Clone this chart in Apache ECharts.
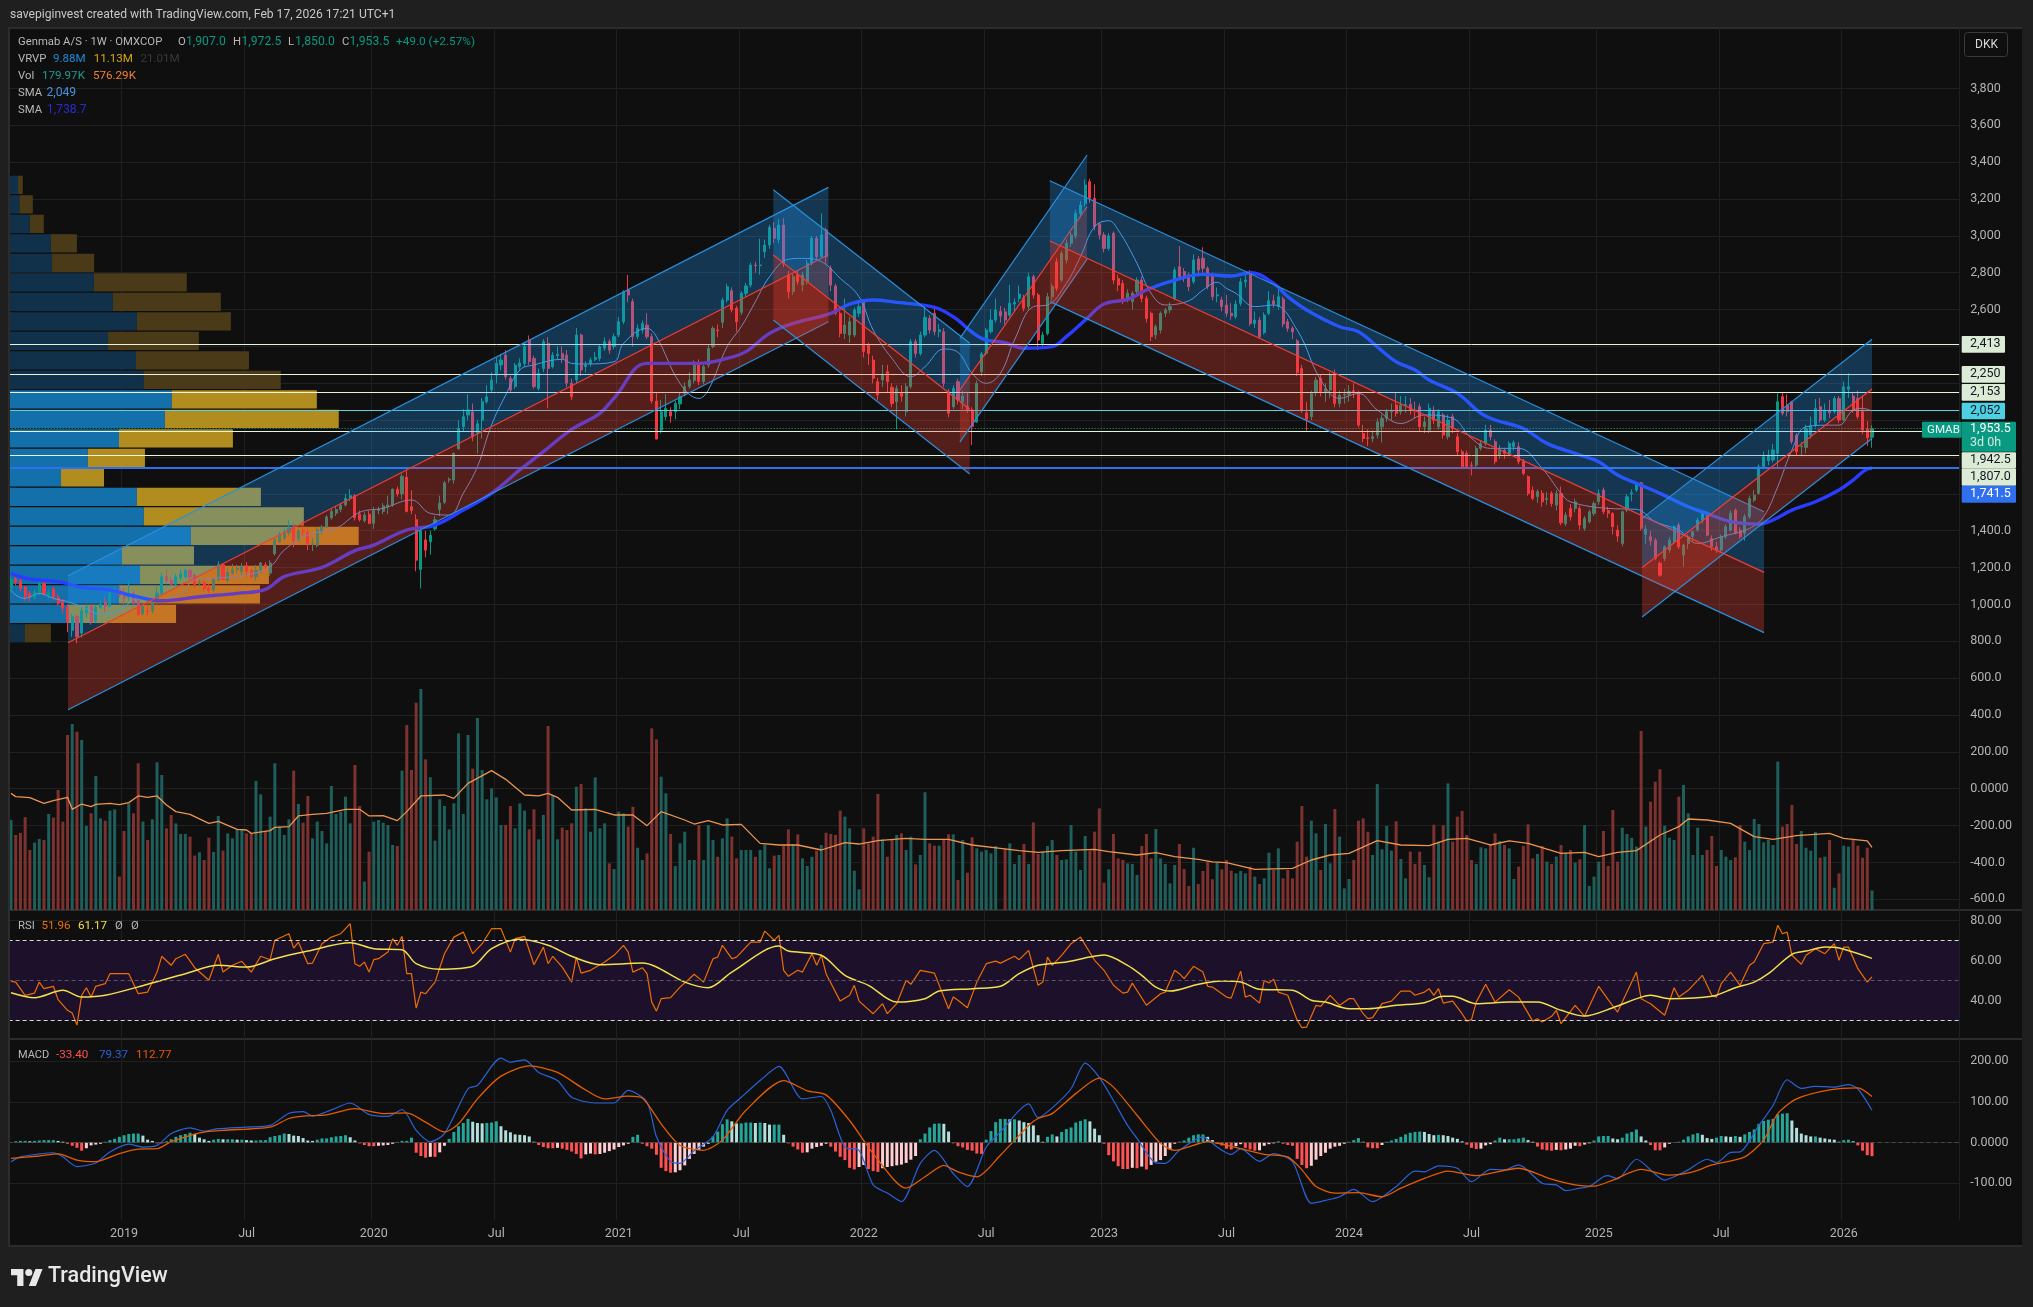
<!DOCTYPE html>
<html><head><meta charset="utf-8">
<script src="https://cdn.jsdelivr.net/npm/echarts@6/dist/echarts.min.js"></script>
<style>
html,body{margin:0;padding:0;background:#1f1f1f;width:2033px;height:1307px;overflow:hidden;font-family:Roboto,sans-serif}
#frame{position:absolute;left:10px;top:28px;width:2012px;height:1218px;background:#0f0f0f}
#main{position:absolute;left:0;top:0;width:2033px;height:1307px}
.sep{position:absolute;left:10px;width:2012px;height:2px;background:#2c2c2c}
.mask{position:absolute;background:#1f1f1f}
#logo{position:absolute;left:11px;top:1268px}
</style></head><body>
<div id="frame"></div>
<div class="sep" style="top:27px"></div><div class="sep" style="top:909px"></div><div class="sep" style="top:1038px"></div><div class="sep" style="top:1245px"></div>
<div id="main"></div>
<div class="mask" style="left:0;top:0;width:10px;height:1307px"></div>
<div class="mask" style="left:8px;top:27px;width:2px;height:1220px;background:#2c2c2c"></div>
<svg id="logo" width="32" height="18" viewBox="0 0 36 20"><path fill="#e8e8e8" d="M14 20H7V8H0V1h14zM28 20h-8l7.5-19h8z"/><circle cx="20" cy="5" r="4" fill="#e8e8e8"/></svg>
<script>
// ---------- time axis ----------
const firstWeek = '2018-07-23';
const totalSlots = 414;
const timeTicks = [[24,'2019'],[50,'Jul'],[77,'2020'],[103,'Jul'],[129,'2021'],[155,'Jul'],[181,'2022'],[207,'Jul'],[232,'2023'],[258,'Jul'],[284,'2024'],[310,'Jul'],[337,'2025'],[363,'Jul'],[389,'2026']];

// ---------- price ticks ----------
const priceGrid = [-600,-400,-200,0,200,400,600,800,1000,1200,1400,1600,1800,2000,2200,2400,2600,2800,3000,3200,3400,3600,3800];
const priceLabels = {3800:'3,800',3600:'3,600',3400:'3,400',3200:'3,200',3000:'3,000',2800:'2,800',2600:'2,600',1400:'1,400.0',1200:'1,200.0',1000:'1,000.0',800:'800.0',600:'600.0',400:'400.0',200:'200.00',0:'0.0000','-200':'-200.00','-400':'-400.0','-600':'-600.0'};
const rsiLabels = {80:'80.00',60:'60.00',40:'40.00'};
const macdLabels = {200:'200.00',100:'100.00',0:'0.0000','-100':'-100.00'};

// ---------- weekly candles: open, close, low, high ----------
const candles = [
[1085,1135,1070,1150],[1140,1120,1105,1150],[1130,1085,1070,1140],[1095,1040,1020,1100],[1060,1040,1015,1075],
[1035,1070,1030,1085],[1065,1115,1050,1130],[1115,1060,1045,1125],[1050,1065,1030,1085],[1085,1040,1020,1095],
[1040,1005,990,1060],[1020,980,950,1030],[985,905,850,1000],[860,935,825,950],[935,825,790,945],
[845,965,820,985],[955,985,930,1000],[990,905,890,1000],[910,985,900,995],[985,1000,975,1030],
[1015,990,960,1040],[990,1070,985,1085],[1070,1085,1060,1100],[1080,1050,1040,1105],[1065,1035,1000,1090],
[1040,1060,1020,1130],[1060,1010,990,1070],[1020,945,940,1040],[950,990,940,1000],[965,960,940,1000],
[965,1010,950,1020],[1010,1060,1000,1095],[1060,1150,1050,1170],[1150,1130,1110,1190],[1130,1110,1100,1150],
[1110,1150,1100,1165],[1145,1165,1130,1190],[1150,1185,1140,1195],[1185,1150,1130,1190],[1160,1110,1090,1170],
[1115,1120,1100,1135],[1120,1085,1070,1130],[1090,1075,1060,1110],[1080,1140,1070,1145],[1135,1215,1125,1235],
[1215,1135,1130,1225],[1130,1175,1120,1200],[1170,1190,1160,1220],[1190,1195,1170,1215],[1180,1205,1160,1225],
[1210,1180,1150,1230],[1185,1150,1140,1195],[1150,1185,1130,1215],[1185,1225,1170,1230],[1215,1205,1190,1230],
[1170,1225,1155,1240],[1275,1350,1265,1360],[1340,1380,1335,1395],[1360,1395,1350,1410],[1390,1415,1375,1460],
[1415,1345,1310,1440],[1350,1400,1340,1410],[1400,1395,1370,1450],[1390,1330,1295,1410],[1325,1330,1290,1360],
[1320,1405,1310,1420],[1395,1420,1380,1430],[1420,1475,1415,1485],[1470,1505,1460,1520],[1495,1515,1480,1530],
[1515,1540,1500,1550],[1540,1575,1530,1600],[1575,1590,1560,1625],[1590,1470,1455,1600],[1490,1460,1450,1510],
[1455,1485,1445,1500],[1490,1440,1435,1510],[1440,1510,1410,1530],[1510,1515,1490,1530],[1505,1535,1490,1550],
[1530,1540,1490,1590],[1540,1625,1530,1630],[1625,1600,1585,1640],[1600,1695,1570,1710],[1690,1505,1500,1725],
[1530,1510,1490,1620],[1460,1240,1180,1490],[1190,1400,1087,1420],[1350,1295,1255,1400],[1340,1375,1270,1400],
[1410,1460,1400,1480],[1515,1550,1480,1590],[1555,1660,1545,1670],[1675,1680,1660,1690],[1675,1820,1655,1825],
[1845,1955,1840,2000],[1965,2019,1935,2060],[2028,2055,2000,2140],[2045,1910,1885,2090],[1930,1980,1820,2000],
[2000,2100,1900,2120],[2100,2127,2090,2190],[2164,2218,2150,2260],[2245,2308,2200,2340],[2300,2326,2270,2360],
[2353,2236,2220,2380],[2227,2164,2150,2240],[2182,2299,2170,2310],[2290,2310,2270,2335],[2308,2399,2290,2420],
[2435,2317,2300,2460],[2335,2182,2170,2350],[2172,2254,2160,2280],[2281,2426,2260,2440],[2417,2281,2064,2450],
[2290,2353,2280,2370],[2350,2356,2330,2400],[2362,2335,2310,2400],[2353,2200,2180,2380],[2200,2127,2110,2225],
[2218,2462,2200,2500],[2462,2272,2240,2470],[2290,2300,2260,2320],[2308,2326,2290,2340],[2330,2340,2320,2370],
[2335,2399,2320,2410],[2390,2426,2375,2450],[2426,2380,2360,2440],[2399,2453,2385,2470],[2462,2534,2450,2560],
[2534,2697,2520,2705],[2706,2679,2640,2788],[2643,2453,2400,2660],[2453,2498,2440,2520],[2489,2525,2470,2540],
[2516,2453,2440,2580],[2453,2104,2090,2470],[2104,1898,1895,2150],[1946,2046,1928,2110],[2019,2064,2000,2142],
[2046,2023,1986,2070],[2046,2091,2005,2105],[2088,2128,2060,2150],[2146,2182,2130,2205],[2182,2218,2170,2260],
[2215,2310,2200,2325],[2308,2209,2190,2330],[2209,2290,2195,2300],[2299,2390,2285,2410],[2399,2498,2390,2510],
[2489,2485,2450,2520],[2531,2652,2500,2665],[2652,2724,2640,2740],[2702,2598,2585,2720],[2607,2534,2480,2620],
[2585,2688,2570,2700],[2688,2728,2670,2745],[2733,2842,2720,2855],[2842,2838,2800,2860],[2838,2842,2790,2985],
[2914,2950,2880,2980],[2950,3046,2930,3060],[3041,2987,2960,3075],[2981,3059,2960,3090],[3059,2851,2830,3095],
[2788,2697,2660,2810],[2697,2778,2680,2795],[2788,2751,2735,2810],[2733,2788,2700,2805],[2751,2851,2735,2870],
[2851,2987,2840,3000],[2987,2887,2870,3000],[2887,3005,2875,3122],[3032,2887,2850,3045],[2824,2733,2700,2840],
[2728,2580,2570,2740],[2580,2471,2450,2590],[2471,2516,2440,2660],[2462,2534,2420,2560],[2462,2598,2450,2610],
[2580,2616,2560,2640],[2643,2372,2340,2650],[2407,2362,2300,2420],[2326,2227,2200,2350],[2209,2136,2110,2230],
[2218,2245,2180,2300],[2263,2209,2150,2300],[2178,2091,2070,2200],[2100,2172,1950,2190],[2150,2130,2100,2190],
[2046,2182,2020,2200],[2182,2426,2170,2440],[2426,2362,2340,2440],[2362,2462,2350,2480],[2462,2558,2450,2620],
[2552,2489,2470,2570],[2580,2480,2460,2620],[2480,2490,2450,2520],[2480,2200,2180,2500],[2154,2037,2015,2170],
[2073,2172,2060,2190],[2209,2109,2085,2225],[2100,2130,2060,2160],[2073,2055,2040,2150],[2055,1965,1865,2070],
[1990,2200,1985,2215],[2263,2359,2240,2370],[2362,2489,2350,2500],[2480,2543,2470,2600],[2543,2598,2530,2660],
[2590,2565,2530,2620],[2588,2543,2520,2610],[2570,2634,2560,2735],[2630,2640,2590,2660],[2661,2684,2640,2730],
[2661,2607,2590,2680],[2616,2778,2600,2800],[2778,2679,2660,2790],[2679,2435,2380,2690],[2417,2462,2400,2480],
[2470,2670,2460,2690],[2670,2725,2650,2740],[2860,2715,2700,2880],[2760,2905,2750,2920],[2869,2960,2850,2980],
[2960,3005,2940,3020],[3000,3122,2985,3140],[3122,3167,3100,3190],[3176,3276,3160,3307],[3294,3204,3180,3310],
[3204,3050,3030,3280],[3064,3005,2980,3075],[3005,2932,2910,3020],[2932,3000,2920,3015],[3014,2760,2740,3025],
[2769,2733,2700,2790],[2742,2652,2630,2760],[2652,2688,2640,2710],[2643,2688,2600,2700],[2697,2760,2680,2775],
[2760,2660,2640,2780],[2661,2552,2530,2675],[2580,2453,2430,2590],[2462,2507,2440,2520],[2489,2580,2470,2590],
[2580,2598,2560,2610],[2598,2616,2580,2640],[2661,2815,2650,2830],[2833,2778,2760,2945],[2806,2770,2750,2825],
[2788,2724,2700,2800],[2751,2869,2740,2900],[2875,2815,2780,2890],[2878,2824,2800,2938],[2824,2724,2710,2835],
[2788,2670,2650,2800],[2675,2680,2640,2720],[2652,2616,2590,2670],[2625,2580,2560,2680],[2580,2567,2545,2635],
[2561,2630,2550,2650],[2634,2751,2620,2770],[2751,2760,2720,2790],[2806,2525,2510,2815],[2525,2543,2500,2590],
[2543,2453,2440,2560],[2475,2570,2465,2585],[2580,2648,2570,2700],[2648,2630,2610,2680],[2616,2670,2600,2720],
[2657,2522,2505,2670],[2534,2498,2480,2550],[2498,2480,2440,2510],[2430,2258,2240,2440],[2280,2055,2040,2300],
[2040,2005,1943,2100],[2019,2145,2000,2160],[2150,2218,2130,2235],[2227,2154,2130,2250],[2154,2170,2100,2200],
[2163,2245,2120,2260],[2254,2091,2070,2275],[2091,2136,2070,2160],[2136,2140,2090,2170],[2140,2155,2100,2190],
[2160,2155,2120,2200],[2145,1973,1960,2160],[1928,1901,1880,1975],[1905,1900,1860,1950],[1900,1910,1880,1945],
[1919,1991,1900,2010],[1964,2010,1880,2030],[2010,2046,1990,2060],[2046,2050,2000,2090],[2082,2037,2020,2150],
[2046,2082,2030,2130],[2082,2085,2040,2130],[2085,2055,2030,2120],[2055,2050,2010,2100],[2073,1964,1940,2090],
[1964,1990,1930,2020],[1946,2064,1930,2090],[2050,2000,1980,2075],[1964,2046,1950,2060],[2028,1919,1900,2040],
[1910,2000,1895,2030],[2019,1955,1930,2035],[1910,1829,1810,1930],[1829,1747,1735,1840],[1820,1747,1735,1835],
[1756,1752,1700,1775],[1756,1847,1745,1860],[1847,1874,1835,1890],[1874,1946,1860,1975],[1946,1910,1890,1975],
[1883,1775,1760,1895],[1810,1837,1790,1865],[1837,1820,1790,1850],[1820,1874,1805,1885],[1856,1878,1835,1890],
[1856,1775,1760,1880],[1775,1711,1700,1790],[1693,1603,1590,1700],[1620,1575,1565,1640],[1584,1612,1550,1625],
[1603,1557,1530,1620],[1570,1575,1540,1610],[1603,1548,1530,1615],[1539,1603,1510,1620],[1603,1443,1430,1640],
[1439,1485,1425,1500],[1521,1476,1455,1545],[1521,1557,1500,1575],[1521,1431,1405,1535],[1413,1467,1400,1480],
[1449,1503,1440,1515],[1494,1548,1480,1560],[1557,1603,1540,1625],[1621,1503,1490,1635],[1510,1495,1470,1530],
[1494,1422,1380,1500],[1403,1371,1340,1430],[1331,1503,1315,1510],[1512,1584,1500,1600],[1600,1606,1560,1625],
[1621,1660,1610,1665],[1660,1413,1400,1665],[1380,1410,1330,1430],[1367,1346,1320,1400],[1349,1250,1240,1360],
[1223,1159,1150,1235],[1250,1313,1235,1320],[1295,1349,1280,1365],[1340,1422,1330,1430],[1431,1313,1300,1445],
[1268,1322,1205,1330],[1331,1367,1300,1380],[1370,1395,1340,1400],[1404,1458,1395,1470],[1458,1494,1440,1510],
[1494,1376,1370,1505],[1358,1313,1290,1375],[1313,1295,1280,1340],[1295,1367,1285,1380],[1367,1422,1355,1435],
[1403,1494,1395,1510],[1512,1386,1380,1520],[1403,1367,1355,1420],[1386,1476,1345,1490],[1476,1575,1465,1590],
[1566,1593,1555,1620],[1603,1747,1595,1760],[1747,1801,1735,1830],[1780,1810,1755,1840],[1784,1838,1770,1870],
[1820,2100,1745,2144],[2127,2037,2025,2148],[2082,2046,2020,2140],[2100,1883,1870,2105],[1919,1829,1810,1930],
[1856,1860,1805,1880],[1852,1955,1820,1975],[1919,1970,1900,2020],[1973,2064,1960,2115],[2073,2001,1985,2120],
[2001,2055,1990,2090],[2050,2040,2010,2110],[2046,2118,2035,2130],[2118,2001,1985,2130],[2001,2181,1995,2210],
[2167,2181,2120,2254],[2131,2055,2040,2150],[2118,2019,2005,2160],[2046,1946,1925,2135],[1950,1904,1860,1995],
[1907,1953.5,1850,1972.5]];

// ---------- volume (thousand shares), read week by week ----------
const volumeEarly = [828,690,710,853,552,620,653,644,883,850,1104,812,1610,1711,1640,1564,773,890,1233,843,822,914,926,307,727,981,889,1350,813,644,834,1359,1242,751,874,797,699,699,675,500,531,460,665,534,865,546,705,659,742,742,705,705,1187,1064,721,859,1350,767,690,834,1282,975,803,1049,659,813,727,613,1141,883,905,1043,797,1334,957,261,537,813,828,803,782,598,589,1282,1702,1288,1907,2033,1386,1221,638,1018,957,742,981,1625,883,1610,1300,1766,1288,1018,1119,1036,782,782,957,751,981,914,742,926,650,874,1693,1058,650,757,736,797,1134,1159,935,720,1220,751,797,429,377,905,889,767,950,573,460,521,1671,1570,1226,1073,699,404,613,720,460,460,782,460,782,644,490,659,843,675,475,552,552,552,490,552,598,383,500,506,589,742,604,696,475,405,490,546,598,711,699,690,914,859,751,362,190,751,613,675,1067,650,490,644,690,705,552,675,420,506,1083,613,592,592,644,696,696,276,644,343,669,567,537,552,521,589];
const volumeLate = [567,613,423,506,607,423,806,515,537,589,644,506,460,466,782,537,368,681,546,720,935,251,374,699,475,460,429,423,322,589,699,475,745,475,423,245,414,607,377,221,573,239,359,445,282,435,374,460,362,337,359,337,399,307,239,291,527,368,567,291,368,291,629,957,491,822,705,368,791,429,929,675,199,285,460,822,843,720,506,1159,558,773,546,816,469,291,537,423,537,414,301,785,629,780,1165,629,859,911,690,460,423,577,567,598,705,635,598,567,285,399,589,788,475,515,589,445,423,491,598,527,552,435,466,782,221,307,445,727,405,920,445,757,699,665,583,1647,767,997,1180,1294,776,665,644,1043,1150,889,506,757,506,552,681,405,552,491,460,485,782,629,552,837,791,623,644,598,1365,767,791,966,607,727,573,546,718,481,491,644,205,337,592,583,644,592,481,573,180];
const volumeAvg = [[0,1073],[1,1043],[4,1034],[7,981],[9,1006],[12,1037],[13,926],[15,975],[17,951],[18,972],[21,981],[23,969],[25,988],[27,1049],[29,1037],[31,1049],[33,966],[35,905],[38,880],[42,797],[44,816],[48,742],[50,736],[51,705],[55,730],[56,761],[59,767],[61,865],[64,880],[67,889],[71,926],[74,926],[76,865],[79,868],[82,822],[84,905],[87,1049],[92,1058],[94,1027],[97,1165],[102,1282],[105,1202],[109,1058],[112,1049],[114,1073],[116,1037],[119,920],[124,926],[128,874],[132,874],[135,776],[138,905],[143,828],[145,791],[148,822],[151,782],[155,788],[159,613],[163,598],[167,598],[172,552],[177,620],[180,607],[184,638],[190,659],[194,650],[199,650],[204,598],[210,567],[214,546],[218,531],[223,546],[230,558],[233,537],[239,506],[243,528],[247,491],[252,466],[255,442],[258,436],[264,374],[272,383],[276,460],[280,506],[284,521],[290,638],[295,598],[301,592],[305,650],[309,659],[314,598],[318,635],[322,613],[329,521],[334,531],[337,491],[341,531],[345,546],[350,690],[354,767],[356,837],[360,828],[365,797],[370,675],[374,650],[379,684],[386,705],[389,659],[394,635],[395,576]];

// ---------- moving averages on price ----------
const sma50 = [[0,1078],[1,1051],[3,1033],[6,1060],[9,1033],[12,1015],[15,988],[19,948],[21,952],[24,988],[27,1033],[31,1024],[36,1060],[39,1133],[43,1142],[50,1160],[55,1205],[58,1295],[63,1377],[69,1413],[74,1500],[79,1522],[85,1567],[89,1494],[93,1485],[96,1603],[99,1748],[102,1974],[105,2136],[108,2272],[111,2300],[117,2330],[119,2308],[122,2305],[128,2317],[130,2417],[135,2498],[137,2453],[142,2200],[146,2118],[148,2163],[152,2399],[155,2507],[158,2643],[161,2778],[165,2873],[168,2878],[172,2860],[176,2770],[180,2670],[183,2489],[187,2335],[191,2236],[194,2290],[198,2386],[201,2368],[204,2254],[207,2200],[210,2254],[213,2435],[217,2616],[220,2625],[224,2742],[227,2887],[230,3050],[233,3082],[235,3032],[239,2851],[242,2688],[245,2625],[250,2648],[253,2706],[256,2748],[258,2715],[260,2688],[264,2616],[268,2625],[273,2489],[278,2218],[282,2118],[286,2145],[290,2055],[295,1982],[300,2028],[306,2010],[310,1901],[314,1847],[320,1847],[325,1738],[329,1603],[331,1557],[339,1521],[345,1516],[349,1449],[354,1404],[358,1331],[363,1367],[369,1413],[372,1476],[375,1639],[378,1838],[381,1964],[386,1973],[388,1973],[391,2055],[393,2064],[395,2049]];
const sma200 = [[0,1169],[4,1138],[10,1124],[15,1093],[21,1078],[26,1046],[32,1020],[40,1042],[48,1060],[54,1082],[58,1151],[66,1201],[73,1292],[77,1322],[84,1404],[90,1431],[96,1512],[102,1603],[108,1730],[113,1829],[119,1950],[125,2037],[128,2120],[135,2308],[142,2308],[146,2308],[152,2335],[156,2372],[161,2471],[166,2525],[174,2580],[178,2630],[183,2652],[188,2639],[196,2612],[200,2561],[206,2444],[211,2420],[215,2390],[221,2399],[224,2453],[228,2543],[232,2630],[237,2655],[241,2706],[246,2752],[253,2791],[259,2782],[263,2800],[268,2742],[271,2670],[275,2598],[282,2507],[286,2480],[290,2398],[294,2317],[298,2272],[301,2218],[307,2145],[312,2037],[315,2001],[321,1955],[326,1874],[333,1811],[337,1774],[341,1702],[345,1657],[350,1603],[356,1530],[360,1494],[365,1449],[371,1436],[374,1458],[378,1512],[383,1557],[388,1621],[391,1675],[394,1735],[395,1739]];

// ---------- RSI ----------
const rsiValues = [[0,49.8],[1,49.3],[3,42.7],[5,43.8],[6,49.3],[7,46],[9,47.2],[10,40.5],[12,35.2],[13,33.8],[14,27.8],[15,42.7],[16,46.5],[17,41.8],[18,47.2],[20,48.5],[21,53.5],[25,53.5],[27,43.5],[29,44.3],[31,54.3],[32,62.2],[34,57.7],[35,61],[37,63.2],[39,56.5],[42,50.2],[44,63.2],[45,54.3],[47,57.7],[49,59.7],[51,54.3],[53,62.2],[55,60.5],[56,70.2],[59,73.5],[60,66.3],[61,69.3],[63,58.5],[64,58.8],[66,68.5],[68,71.8],[70,73.5],[72,78.5],[73,58.5],[74,57.2],[75,59.3],[76,54.3],[77,60.5],[78,61],[80,64.3],[81,71],[82,67.7],[83,72.2],[84,53.5],[85,53.5],[86,36.3],[87,44.3],[88,43.5],[90,49.3],[92,63.5],[94,71.8],[96,74.3],[98,63.5],[100,68.5],[102,76],[104,76],[106,64.3],[107,71],[109,72.2],[111,58],[113,66.8],[114,58.5],[115,62.2],[117,56.8],[119,49.3],[120,61.8],[121,53.8],[123,55.2],[126,59.3],[128,62.7],[130,67.7],[131,64.3],[132,54.3],[134,56.5],[135,53.5],[136,39.3],[137,34.8],[138,41],[140,41.5],[142,46.8],[144,51],[145,53.2],[147,49.3],[149,61],[150,61.8],[151,67.7],[153,61],[154,61.8],[157,69.3],[159,69.3],[160,74.8],[162,70.2],[163,72.7],[164,55.2],[165,52.2],[167,55.2],[168,54.3],[170,63.5],[171,57.7],[172,62.7],[173,53.5],[176,39.8],[178,42.7],[179,47.7],[180,39.8],[183,33.5],[185,38.5],[186,33.5],[188,38.5],[190,50.2],[191,48.2],[193,55.2],[196,53.8],[199,36],[200,41.8],[201,40.2],[203,36.5],[205,49.3],[207,58.5],[209,59.8],[210,58.8],[213,62.2],[214,60.5],[216,65.2],[218,47.7],[219,49.3],[220,61.8],[221,57.7],[223,62.7],[225,68.5],[227,71.8],[230,60.2],[232,55.2],[234,47.7],[236,43.8],[237,44.3],[238,48.8],[241,37.7],[244,43.5],[245,44.3],[247,55.2],[248,53.5],[249,51],[251,57.2],[253,54.3],[254,47.2],[255,46.8],[258,41.8],[259,41.3],[261,54.8],[262,41.8],[263,42.7],[265,38.8],[266,50.2],[267,48.8],[268,50.7],[269,44.3],[271,42.7],[273,30.2],[274,26.5],[275,26.8],[277,37.7],[278,37.2],[280,42.7],[282,37.7],[284,41],[285,41],[287,33.5],[288,31],[289,31.5],[291,38.5],[293,39.8],[295,44.8],[297,44.8],[298,42.7],[300,44.3],[301,46],[302,42.7],[303,46],[304,38.8],[306,39.8],[308,33.5],[309,29.8],[310,30.5],[311,39.3],[313,48.2],[315,39.3],[318,45.5],[320,41.8],[323,29.8],[324,31],[325,29.3],[327,32.2],[328,35.2],[329,28.5],[332,37.7],[334,32.2],[337,47.2],[339,40.5],[341,34.3],[343,44.3],[345,54.3],[346,41],[348,38.5],[351,32.7],[353,46.5],[354,41.8],[356,45.2],[359,52.7],[361,42.7],[362,41.8],[363,48.5],[365,54.3],[367,47.7],[369,57.7],[370,59.3],[372,68.5],[374,69.3],[375,77.7],[376,73.5],[377,74.3],[378,62.7],[380,58.2],[381,62.7],[383,66],[385,63.5],[387,68.5],[388,60.2],[389,66.8],[390,66.8],[392,56],[394,49.3],[395,51.96]];
const rsiAvg = [[0,44],[5,41.5],[11,45.2],[15,41.8],[20,42.7],[29,48.2],[37,53.5],[44,57.7],[50,56.8],[56,61],[63,64.8],[72,69],[77,66],[83,65.5],[86,58.5],[91,55.7],[98,57.2],[102,66],[108,70.7],[114,67.7],[119,62.2],[125,58],[134,58.8],[143,49.3],[148,46.5],[153,54.3],[163,67.3],[165,64.8],[172,62.7],[177,52.7],[182,47.7],[188,39.3],[194,41],[197,44.8],[204,46],[210,47.2],[214,53.5],[218,57.7],[224,59.3],[229,61.8],[232,62.8],[237,57.7],[240,52.7],[243,46.8],[246,44.8],[252,48.2],[257,49.8],[261,49.3],[265,45.7],[272,45.2],[276,40.2],[279,39.3],[284,36],[288,36],[294,37.7],[300,39],[304,42.2],[306,42.2],[311,38.5],[318,39.3],[324,39.3],[329,35.2],[334,32.3],[340,36.5],[346,41.8],[348,42.7],[352,41],[361,42.2],[366,46.5],[370,49.3],[373,53.5],[378,63.2],[381,64.8],[385,66.8],[388,66.3],[395,61.17]];

// ---------- MACD ----------
const macdLine = [[0,-47],[2,-35],[6,-28],[9,-25],[11,-35],[14,-59],[18,-50],[21,-23],[25,-4],[28,-11],[31,-7],[34,22],[38,36],[41,28],[44,34],[50,38],[55,42],[59,72],[62,76],[64,65],[68,80],[72,97],[76,69],[80,64],[83,81],[86,30],[89,2],[92,22],[97,132],[99,140],[104,207],[106,197],[109,203],[112,172],[116,152],[119,111],[124,97],[128,97],[131,128],[135,99],[137,14],[140,-47],[142,-51],[145,-20],[149,14],[152,79],[155,111],[159,152],[163,187],[168,107],[172,113],[174,79],[177,-11],[180,-19],[183,-104],[186,-124],[189,-145],[193,-51],[196,-19],[200,-76],[203,-108],[207,-11],[210,26],[214,79],[216,95],[218,61],[221,85],[225,132],[228,195],[231,160],[234,103],[237,42],[239,10],[243,-50],[245,-51],[248,-19],[253,14],[256,-11],[259,-29],[261,-15],[265,-46],[268,-27],[272,-47],[276,-149],[279,-142],[282,-133],[285,-115],[289,-145],[294,-108],[298,-70],[300,-72],[303,-57],[307,-63],[310,-96],[314,-66],[317,-67],[320,-55],[325,-100],[328,-104],[330,-118],[333,-112],[335,-108],[338,-84],[339,-81],[341,-89],[345,-41],[351,-92],[353,-84],[356,-67],[360,-41],[362,-49],[365,-24],[367,-23],[371,42],[374,91],[377,154],[380,133],[383,138],[387,136],[390,142],[392,132],[395,79.37]];
const macdSignal = [[0,-39],[6,-33],[10,-28],[14,-43],[18,-47],[23,-27],[27,-16],[31,-15],[34,2],[40,24],[45,30],[55,38],[59,59],[62,65],[67,68],[73,83],[79,71],[84,73],[88,50],[92,26],[95,46],[99,107],[104,163],[110,188],[116,172],[121,136],[126,107],[131,114],[134,109],[138,46],[142,-7],[147,-19],[151,6],[156,79],[164,152],[169,127],[173,117],[178,54],[183,-27],[190,-112],[194,-84],[198,-56],[201,-72],[205,-84],[210,-31],[216,42],[218,59],[221,71],[226,120],[231,158],[234,136],[239,67],[244,-2],[247,-19],[254,2],[261,-15],[266,-29],[271,-35],[274,-67],[277,-108],[281,-124],[286,-123],[291,-133],[295,-112],[300,-88],[305,-70],[311,-81],[320,-63],[327,-90],[332,-104],[336,-107],[340,-92],[346,-66],[352,-80],[357,-72],[361,-55],[368,-35],[372,6],[375,71],[379,107],[386,129],[392,134],[395,112.77]];
const macdHist = [
3,4,4,3,4,5,6,6,6,4,
2,-3,-8,-13,-20,-14,-7,-5,-3,2,
6,9,14,18,21,22,22,17,7,4,
-2,-2,3,8,14,18,21,24,21,12,
8,4,7,9,8,8,8,7,7,6,
5,5,6,6,13,16,18,22,21,17,
16,11,5,4,7,10,10,13,15,16,
18,13,5,-2,-6,-9,-9,-8,-7,-6,
-3,-1,4,4,12,-25,-33,-37,-35,-35,
-24,-8,9,26,40,48,58,51,48,47,
48,49,52,40,30,25,20,19,18,15,
2,-6,-11,-14,-14,-13,-15,-18,-22,-28,
-39,-29,-27,-29,-28,-25,-21,-17,-11,-7,
-3,14,19,-3,-9,-15,-30,-62,-70,-74,
-73,-68,-56,-40,-28,-18,-10,-3,15,27,
45,57,52,47,47,49,49,48,49,48,
44,44,44,19,-2,-10,-17,-25,-24,-15,
-11,-8,-3,-10,-22,-35,-43,-62,-66,-60,
-55,-65,-70,-72,-63,-60,-58,-56,-54,-50,
-42,-33,8,22,37,46,47,46,27,-2,
-9,-12,-18,-20,-27,-28,7,28,50,58,
58,57,57,54,50,48,42,18,2,14,
20,15,26,33,37,49,53,57,52,34,
18,-3,-31,-46,-58,-65,-65,-62,-63,-59,
-66,-55,-47,-43,-33,-17,-3,2,5,12,
18,20,20,14,6,-3,-7,-15,-17,-9,
-4,-13,-17,-20,-19,-8,-4,-2,3,-3,
-6,-8,-40,-55,-63,-57,-42,-33,-25,-15,
-10,-8,-3,2,6,11,2,-12,-14,-14,
-6,2,5,9,14,20,24,26,27,26,
21,18,19,18,16,12,9,3,-5,-13,
-16,-15,-7,-4,5,12,8,8,8,10,
12,6,2,-10,-17,-19,-20,-18,-19,-17,
-15,-8,-9,-5,-2,5,15,16,16,10,
8,12,22,26,32,15,5,-6,-19,-19,
-12,-3,1,2,7,15,20,23,19,11,
9,12,16,15,14,16,14,20,26,32,
46,53,56,58,69,71,72,54,36,22,
18,15,15,12,10,8,7,2,6,7,
3,-7,-20,-31,-33.4];

// ---------- volume profile (thousand shares per price row, bottom row first) ----------
const profileBottom = 790.7;
const profileRowHeight = 105.8;
const profileUp = [67,255,487,581,500,808,598,567,228,348,487,692,723,598,563,438,567,460,375,188,183,89,42,36];
const profileDown = [116,487,630,576,322,750,715,554,192,255,509,777,648,612,505,406,420,482,415,188,116,62,60,21];
const profileValueArea = [false,true,true,true,true,true,true,true,true,true,true,true,true,false,false,false,false,false,false,false,false,false,false,false];

// ---------- parallel channels: start week, end week, top, middle, bottom price at each end ----------
const channels = [
 [12.1,173.5,1156,3263,792,2898,429,2534],
 [161.8,203.5,3250,2417,2896,2059,2543,1708],
 [201.4,228.4,2444,3439,2163,3158,1881,2874],
 [220.5,372.1,3299,1503,2972,1174,2643,847],
 [346.2,395,1467,2439,1199,2169,932,1901]
];

// ---------- horizontal levels ----------
const levels = [[2413,'#e6f4da',1],[2250,'#e6f4da',1],[2153,'#e6f4da',1],[2052,'#62cfe0',1],[1942.5,'#e6f4da',1],[1807,'#e6f4da',1],[1741.5,'#2f6ff0',2]];
const lastClose = 1953.5;

// ---------- build ----------
const N = candles.length;
const start = new Date(firstWeek + 'T00:00:00Z').getTime();
const cats = [];
for (let i = 0; i < totalSlots; i++) cats.push(new Date(start + i * 7 * 864e5).toISOString().slice(0, 10));
const tickMap = {}; timeTicks.forEach(t => tickMap[t[0]] = t[1]);
const isTick = (i) => tickMap[i] !== undefined;

const UP = '#089981', DOWN = '#f23645';
const isUp = (i) => i >= N ? true : candles[i][1] >= candles[i][0];
const vol = new Array(N).fill(null);
volumeEarly.forEach((v, i) => { if (i < N) vol[i] = v; });
volumeLate.forEach((v, i) => { const k = N - volumeLate.length + i; if (k >= 0) vol[k] = v; });
const histStart = N - macdHist.length;
const histData = macdHist.map((v, i) => {
  const prev = i > 0 ? macdHist[i - 1] : 0;
  const c = v >= 0 ? (v >= prev ? '#26a69a' : '#b2dfdb') : (v <= prev ? '#ff5252' : '#ffcdd2');
  return { value: [i + histStart, v], itemStyle: { color: c } };
});

const L = 8.64, W = 1950.5;
const gridBase = { left: L, width: W, containLabel: false };
const MAIN = { top: 28, height: 882 };
const grids = [
  { ...gridBase, ...MAIN },
  { ...gridBase, ...MAIN },
  { left: 10, width: W - 1.36, ...MAIN },
  { ...gridBase, ...MAIN },
  { ...gridBase, top: 910, height: 129 },
  { ...gridBase, top: 1039, height: 181 }
];
const gridLine = { show: true, lineStyle: { color: '#202020', width: 1 } };
const catAxis = (idx, extra) => ({
  type: 'category', gridIndex: idx, data: cats, boundaryGap: true,
  axisLine: { show: false }, axisTick: { show: false, alignWithLabel: true, interval: (i) => isTick(i) },
  axisLabel: { show: false }, splitLine: { show: false }, ...extra
});
const vGrid = { show: true, interval: (i) => isTick(i), lineStyle: gridLine.lineStyle };
const xAxes = [
  catAxis(0, { splitLine: vGrid }),
  { type: 'value', gridIndex: 1, min: -0.5, max: totalSlots - 0.5, show: false },
  { type: 'value', gridIndex: 2, min: 0, max: 8709, show: false },
  catAxis(3),
  catAxis(4, { splitLine: vGrid }),
  catAxis(5, { splitLine: vGrid, axisLabel: { show: true, interval: (i) => isTick(i), formatter: (v, i) => tickMap[i] || '', color: '#b4b4b4', fontFamily: 'Roboto', fontSize: 12.5, margin: 7 } })
];
const priceMin = -658, priceMax = 4128;
const labelStyle = { color: '#b4b4b4', fontFamily: 'Roboto', fontSize: 12.5, margin: 11 };
const yAxes = [
  { type: 'value', gridIndex: 0, position: 'right', min: priceMin, max: priceMax, axisLine: { show: false },
    axisTick: { show: false, customValues: priceGrid },
    axisLabel: { ...labelStyle, customValues: Object.keys(priceLabels).map(Number), formatter: (v) => priceLabels[v] || '' },
    splitLine: gridLine },
  { type: 'value', gridIndex: 1, min: priceMin, max: priceMax, show: false },
  { type: 'value', gridIndex: 2, min: priceMin, max: priceMax, show: false },
  { type: 'value', gridIndex: 3, min: 0, max: 8114, show: false },
  { type: 'value', gridIndex: 4, position: 'right', min: 20.85, max: 85.35, axisLine: { show: false },
    axisTick: { show: false, customValues: [40, 60, 80] },
    axisLabel: { ...labelStyle, customValues: [40, 60, 80], formatter: (v) => rsiLabels[v] || '' }, splitLine: gridLine },
  { type: 'value', gridIndex: 5, position: 'right', min: -190, max: 254, axisLine: { show: false },
    axisTick: { show: false, customValues: [-100, 0, 100, 200] },
    axisLabel: { ...labelStyle, customValues: [-100, 0, 100, 200], formatter: (v) => macdLabels[v] || '' }, splitLine: gridLine }
];
const line = (name, data, ax, color, width, z, smooth) => ({
  name, type: 'line', data, xAxisIndex: ax, yAxisIndex: ax, showSymbol: false, symbol: 'none', z: z || 3,
  smooth: smooth || false, lineStyle: { color, width }, silent: true, animation: false
});
const mlBase = { silent: true, symbol: 'none', label: { show: false }, animation: false };

const series = [
  // volume profile
  { type: 'custom', xAxisIndex: 2, yAxisIndex: 2, z: 1, silent: true, animation: false, clip: true,
    data: profileUp.map((u, i) => [u, profileDown[i], profileBottom + i * profileRowHeight, profileBottom + (i + 1) * profileRowHeight, profileValueArea[i] ? 1 : 0]),
    encode: { x: [0, 1], y: [2, 3] },
    renderItem: (p, api) => {
      const u = api.value(0), d = api.value(1), lo = api.value(2), hi = api.value(3), on = api.value(4);
      const a = api.coord([0, hi]), b = api.coord([u, lo]), c = api.coord([u + d, lo]);
      const h = b[1] - a[1] - 1.2;
      return { type: 'group', children: [
        { type: 'rect', shape: { x: a[0], y: a[1] + 0.6, width: b[0] - a[0], height: h }, style: { fill: on ? '#1470aa' : '#11304a' } },
        { type: 'rect', shape: { x: b[0], y: a[1] + 0.6, width: c[0] - b[0], height: h }, style: { fill: on ? '#b08d1e' : '#4a3a17' } }
      ] };
    } },
  // volume
  { type: 'bar', xAxisIndex: 3, yAxisIndex: 3, z: 2, barWidth: 3, silent: true, animation: false,
    data: vol.map((v, i) => ({ value: v, itemStyle: { color: isUp(i) ? '#1e5f5b' : '#7d3230' } })) },
  line('Vol MA', volumeAvg, 3, '#ea9550', 1.3, 3),
  // candles
  { type: 'candlestick', xAxisIndex: 0, yAxisIndex: 0, z: 3, barWidth: 2.6, silent: true, animation: false,
    data: candles.map(r => [r[0], r[1], r[2], r[3]]),
    itemStyle: { color: UP, color0: DOWN, borderColor: UP, borderColor0: DOWN, borderWidth: 1 } },
  line('SMA 2,049', sma50, 0, '#5a9ae0', 1, 4, 0.4),
  line('SMA 1,738.7', sma200, 0, '#2a3cff', 3.4, 4, 0.4),
  // channels
  { type: 'custom', xAxisIndex: 1, yAxisIndex: 1, z: 5, silent: true, animation: false, clip: true,
    data: channels, encode: { x: [0, 1], y: [2, 3, 4, 5, 6, 7] },
    renderItem: (p, api) => {
      const c = [0, 1, 2, 3, 4, 5, 6, 7].map(k => api.value(k));
      const t0 = api.coord([c[0], c[2]]), t1 = api.coord([c[1], c[3]]);
      const m0 = api.coord([c[0], c[4]]), m1 = api.coord([c[1], c[5]]);
      const b0 = api.coord([c[0], c[6]]), b1 = api.coord([c[1], c[7]]);
      const seg = (a, b, col) => ({ type: 'line', shape: { x1: a[0], y1: a[1], x2: b[0], y2: b[1] }, style: { stroke: col, lineWidth: 1.2 } });
      return { type: 'group', children: [
        { type: 'polygon', shape: { points: [t0, t1, m1, m0] }, style: { fill: 'rgba(33,150,243,0.29)' } },
        { type: 'polygon', shape: { points: [m0, m1, b1, b0] }, style: { fill: 'rgba(244,67,54,0.3)' } },
        seg(t0, t1, '#2a8fdc'), seg(m0, m1, '#ee3e36'), seg(b0, b1, '#2a8fdc')
      ] };
    } },
  // levels
  { type: 'line', xAxisIndex: 0, yAxisIndex: 0, data: [], z: 6, silent: true, animation: false,
    markLine: { ...mlBase, data: [
      ...levels.map(l => ({ yAxis: l[0], lineStyle: { color: l[1], width: l[2], type: 'solid' } })),
      { yAxis: lastClose, lineStyle: { color: '#1fa896', width: 1, type: [1, 2] } }
    ] } },
  // RSI
  { type: 'line', xAxisIndex: 4, yAxisIndex: 4, data: [], z: 1, silent: true, animation: false,
    markArea: { silent: true, itemStyle: { color: '#1d102b' }, label: { show: false }, data: [[{ yAxis: 70 }, { yAxis: 30 }]] },
    markLine: { ...mlBase, data: [
      { yAxis: 70, lineStyle: { color: '#d8d8d8', width: 1.2, type: [4, 3] } },
      { yAxis: 50, lineStyle: { color: '#5d5268', width: 1.2, type: [4, 3] } },
      { yAxis: 30, lineStyle: { color: '#d8d8d8', width: 1.2, type: [4, 3] } }
    ] } },
  line('RSI', rsiValues, 4, '#ee6e00', 1.2, 3),
  line('RSI MA', rsiAvg, 4, '#f0e04c', 1.5, 4, 0.3),
  // MACD
  { type: 'bar', xAxisIndex: 5, yAxisIndex: 5, z: 2, barWidth: 3, silent: true, animation: false, data: histData },
  { type: 'line', xAxisIndex: 5, yAxisIndex: 5, data: [], z: 1, silent: true, animation: false,
    markLine: { ...mlBase, data: [{ yAxis: 0, lineStyle: { color: '#4a4a4a', width: 1, type: [4, 3] } }] } },
  line('MACD', macdLine, 5, '#2a62d8', 1.2, 3, 0.25),
  line('Signal', macdSignal, 5, '#e65c00', 1.3, 4, 0.25)
];

// ---------- text overlays ----------
const txt = (x, y, text, fill, size, extra) => ({ type: 'text', x, y, z: 50, silent: true,
  style: { text, fill, font: (extra && extra.weight ? extra.weight + ' ' : '') + (size || 12.2) + 'px Roboto', textAlign: 'left', textVerticalAlign: 'middle' } });
const tag = (x1, y1, x2, y2, fill) => ({ type: 'rect', z: 49, silent: true, shape: { x: x1, y: y1, width: x2 - x1, height: y2 - y1, r: 1 }, style: { fill } });
const G = '#b8b8b8', T = '#089981', PALE = '#dcebd6', DARK = '#131722';
const LBL = 11.3;
const legendRows = [
  [18, 42, 'Genmab A/S \u00b7 1W \u00b7 OMXCOP', G, LBL], [178, 42, 'O', G, LBL], [186, 42, '1,907.0', T], [233, 42, 'H', G, LBL], [241.5, 42, '1,972.5', T],
  [288, 42, 'L', G, LBL], [295, 42, '1,850.0', T], [342, 42, 'C', G, LBL], [349.5, 42, '1,953.5', T], [396, 42, '+49.0 (+2.57%)', T, 11.8],
  [18, 59, 'VRVP', G, LBL], [53, 59, '9.88M', '#1e88d8', 11.6], [93.7, 59, '11.13M', '#d9a514', 11.6], [140.5, 59, '21.01M', '#3a3a3a', 11.6],
  [18, 76, 'Vol', G, LBL], [42, 76, '179.97K', '#1f9b8e', 11.6], [93, 76, '576.29K', '#ef8233', 11.6],
  [18, 93, 'SMA', G, LBL], [46.4, 93, '2,049', '#4a90e2'],
  [18, 110, 'SMA', G, LBL], [46.8, 110, '1,738.7', '#2a2ad0'],
  [18, 926, 'RSI', G, LBL], [41.5, 926, '51.96', '#ee6e00', 11.6], [78, 926, '61.17', '#f0e04c', 11.6], [115, 926, '\u00d8', G, LBL], [131, 926, '\u00d8', G, LBL],
  [18, 1055, 'MACD', G, 11], [56, 1055, '-33.40', '#ff5252', 11.6], [99, 1055, '79.37', '#2a62d8', 11.6], [136, 1055, '112.77', '#e65c00', 11.6]
];
const priceTags = [
  [336, 352.7, 2005, PALE, '2,413', DARK], [366, 382.7, 2005, PALE, '2,250', DARK], [384, 400.7, 2005, PALE, '2,153', DARK],
  [402.7, 419.3, 2005, '#4dd0e1', '2,052', DARK], [452.3, 468.3, 2016, PALE, '1,942.5', DARK], [468.3, 485.7, 2016, PALE, '1,807.0', DARK],
  [485.7, 502.7, 2016, '#2f6ff0', '1,741.5', '#ffffff']
];
const graphics = [
  txt(10, 15, 'savepiginvest created with TradingView.com, Feb 17, 2026 17:21 UTC+1', '#c8c8c8', 12.1),
  ...legendRows.map(r => txt(r[0], r[1], r[2], r[3], r[4])),
  ...priceTags.flatMap(t => [tag(1961.7, t[0], t[2], t[1], t[3]), txt(1970, (t[0] + t[1]) / 2, t[4], t[5], 12.5)]),
  tag(1922, 421.7, 1961.7, 437.7, '#0a9981'), txt(1927, 429.7, 'GMAB', '#eaf6f3', 11.6),
  tag(1961.7, 421.7, 2016, 451.7, '#0a9981'), txt(1970, 428.6, '1,953.5', '#ffffff', 12.5), txt(1970, 442.8, '3d 0h', '#cfeae4', 12.5),
  { type: 'rect', z: 49, silent: true, shape: { x: 1964.5, y: 32.5, width: 43, height: 24, r: 3 }, style: { fill: '#0f0f0f', stroke: '#3a3a3a', lineWidth: 1 } },
  txt(1975, 44.5, 'DKK', '#d8d8d8', 12),
  txt(48, 1277, 'TradingView', '#e8e8e8', 21.5, { weight: 500 })
];

const chart = echarts.init(document.getElementById('main'), null, { renderer: 'canvas' });
chart.setOption({
  animation: false, backgroundColor: 'transparent', legend: { show: false }, tooltip: { show: false },
  grid: grids, xAxis: xAxes, yAxis: yAxes, series, graphic: graphics
});
</script>
</body></html>
